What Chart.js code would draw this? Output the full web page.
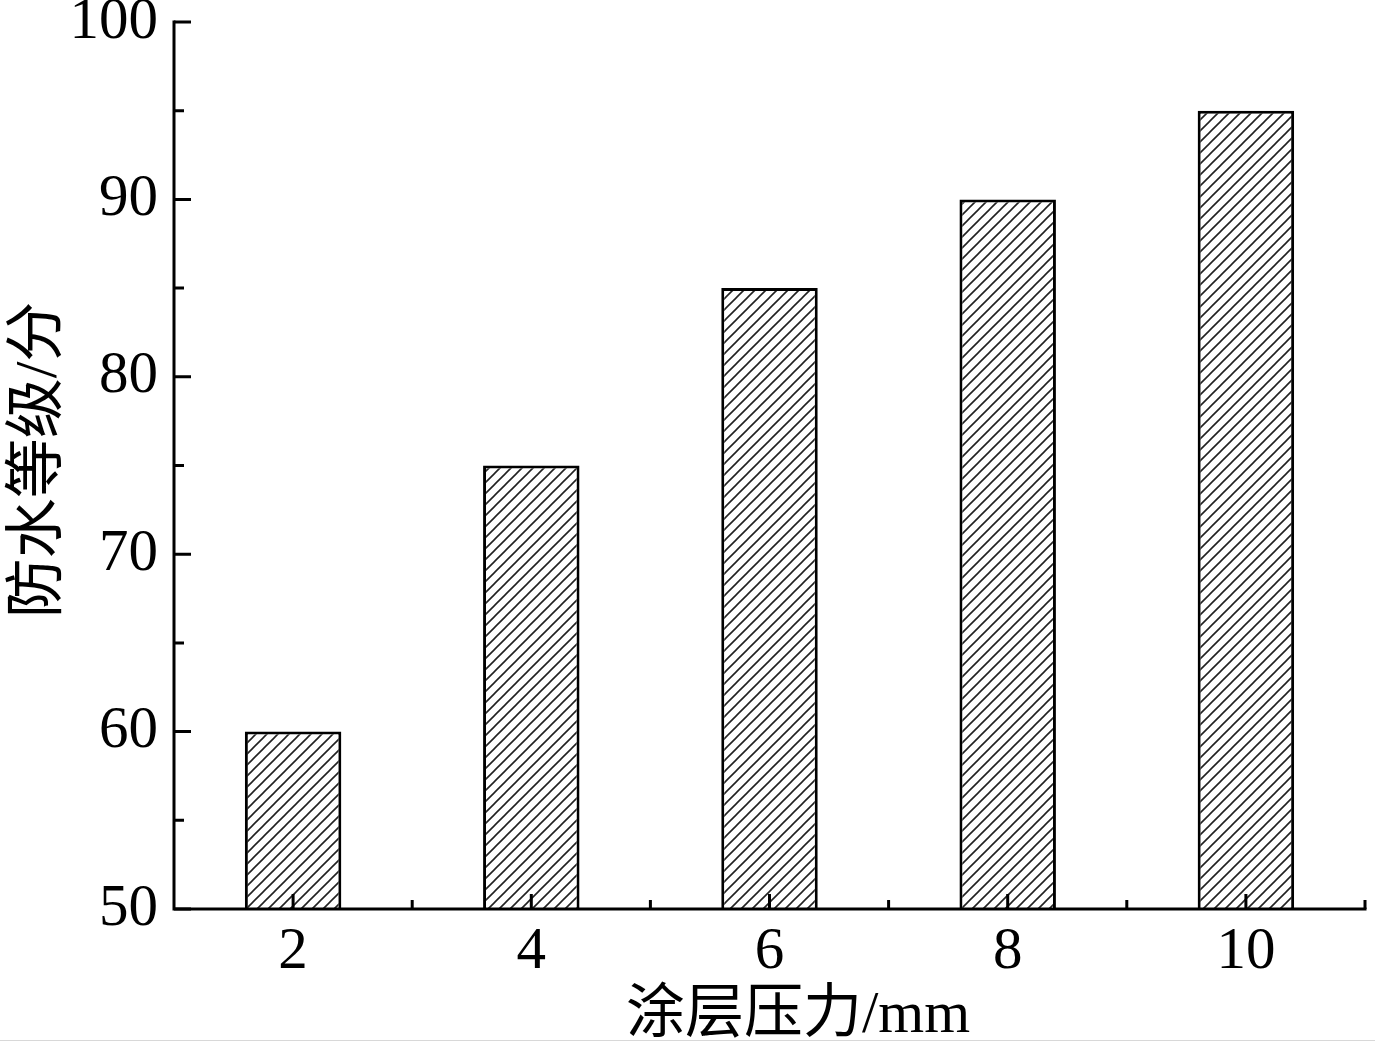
<!DOCTYPE html>
<html>
<head>
<meta charset="utf-8">
<script src="https://cdn.jsdelivr.net/npm/chart.js@4.4.1/dist/chart.umd.min.js"></script>
<style>
  html, body { margin: 0; padding: 0; background: #fff; }
  #wrap { width: 1375px; height: 1046px; position: relative; }
  #bottomline { position: absolute; left: 0; top: 1040px; width: 1375px; height: 1px; background: #d8d8d8; }
</style>
</head>
<body>
<div id="wrap">
  <canvas id="myChart" width="1375" height="1046"></canvas>
  <div id="bottomline"></div>
</div>
<script>
// data
const categories = ["2", "4", "6", "8", "10"];
const scores = [60, 75, 85, 90, 95];
const yMajorTicks = [50, 60, 70, 80, 90, 100];
const yMinorTicks = [55, 65, 75, 85, 95];

const xTitle = "涂层压力/mm";
const yTitle = "防水等级/分";

const fontFamily = "'Liberation Serif', 'Times New Roman', 'Noto Sans CJK SC', serif";

// hatch pattern for the bars (///)
function makeHatch() {
  let size = 11;
  let c = document.createElement("canvas");
  c.width = size;
  c.height = size;
  let g = c.getContext("2d");
  g.fillStyle = "#fff";
  g.fillRect(0, 0, size, size);
  g.strokeStyle = "#222";
  g.lineWidth = 1.6;
  g.beginPath();
  g.moveTo(-1, size + 1);
  g.lineTo(size + 1, -1);
  g.moveTo(-2, 2);
  g.lineTo(2, -2);
  g.moveTo(size - 2, size + 2);
  g.lineTo(size + 2, size - 2);
  g.stroke();
  return g.createPattern(c, "repeat");
}

// inward ticks, axis lines and axis titles
const axisPlugin = {
  id: "axisTicks",
  afterDraw(chart) {
    let ctx = chart.ctx;
    let area = chart.chartArea;
    let x = chart.scales.x;
    let y = chart.scales.y;
    ctx.save();
    ctx.strokeStyle = "#000";
    ctx.lineWidth = 3;
    ctx.lineCap = "square";

    ctx.beginPath();
    ctx.moveTo(area.left, y.getPixelForValue(100));
    ctx.lineTo(area.left, area.bottom);
    ctx.lineTo(area.right, area.bottom);
    ctx.stroke();

    ctx.lineCap = "butt";
    ctx.beginPath();
    yMajorTicks.forEach((v) => {
      let py = y.getPixelForValue(v);
      ctx.moveTo(area.left, py);
      ctx.lineTo(area.left + 17, py);
    });
    yMinorTicks.forEach((v) => {
      let py = y.getPixelForValue(v);
      ctx.moveTo(area.left, py);
      ctx.lineTo(area.left + 10, py);
    });
    categories.forEach((c, i) => {
      let px = x.getPixelForValue(i);
      ctx.moveTo(px, area.bottom);
      ctx.lineTo(px, area.bottom - 15);
      let pb = x.getPixelForValue(i + 0.5);
      ctx.moveTo(pb, area.bottom);
      ctx.lineTo(pb, area.bottom - 9);
    });
    ctx.stroke();

    // titles
    ctx.fillStyle = "#000";
    ctx.textAlign = "center";
    ctx.textBaseline = "middle";
    ctx.font = "59px " + fontFamily;
    ctx.fillText(xTitle, 798, 1016);

    ctx.translate(40, 460);
    ctx.rotate(-Math.PI / 2);
    ctx.font = "60px " + fontFamily;
    ctx.fillText(yTitle, 0, 0);
    ctx.restore();
  },
};

const ctx = document.getElementById("myChart").getContext("2d");
const myChart = new Chart(ctx, {
  type: "bar",
  data: {
    labels: categories,
    datasets: [
      {
        data: scores,
        backgroundColor: makeHatch(),
        borderColor: "#000",
        borderWidth: 3,
        borderSkipped: false,
        barPercentage: 0.405,
        categoryPercentage: 1.0,
      },
    ],
  },
  options: {
    responsive: false,
    animation: false,
    layout: { padding: { left: 0, top: 22, right: 10, bottom: 0 } },
    plugins: {
      legend: { display: false },
      tooltip: { enabled: false },
    },
    scales: {
      x: {
        grid: { display: false, drawTicks: false },
        border: { display: false },
        ticks: {
          color: "#000",
          padding: 8,
          font: { family: fontFamily, size: 59 },
          maxRotation: 0,
        },
        afterFit(scale) {
          scale.height = 137;
          scale.paddingLeft = 0;
          scale.paddingRight = 0;
        },
      },
      y: {
        min: 50,
        max: 100,
        grid: { display: false, drawTicks: false },
        border: { display: false },
        ticks: {
          color: "#000",
          stepSize: 10,
          padding: 16,
          font: { family: fontFamily, size: 59 },
        },
        afterFit(scale) {
          scale.width = 174;
          scale.paddingTop = 0;
          scale.paddingBottom = 0;
        },
      },
    },
  },
  plugins: [axisPlugin],
});
</script>
</body>
</html>
